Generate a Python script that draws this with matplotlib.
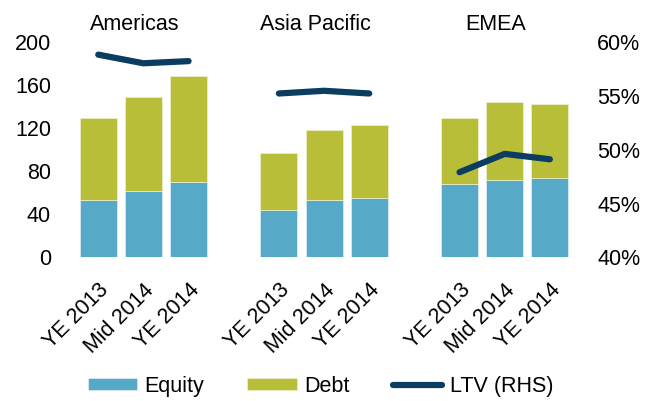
import numpy as np
import matplotlib.pyplot as plt
import matplotlib

matplotlib.rcParams['font.family'] = ['Liberation Sans', 'DejaVu Sans']
matplotlib.rcParams['font.size'] = 15.5

regions = ['Americas', 'Asia Pacific', 'EMEA']
periods = ['YE 2013', 'Mid 2014', 'YE 2014']

# values (bn)
equity = {
    'Americas': [53, 62, 70],
    'Asia Pacific': [44, 53, 55],
    'EMEA': [68, 72, 74],
}
debt = {
    'Americas': [76, 87, 98],
    'Asia Pacific': [53, 65, 68],
    'EMEA': [61, 72, 68],
}
ltv = {
    'Americas': [58.8, 58.0, 58.2],
    'Asia Pacific': [55.2, 55.45, 55.2],
    'EMEA': [47.9, 49.6, 49.1],
}

c_equity = '#57AAC7'
c_debt = '#B8BE38'
c_ltv = '#0B3D61'

fig = plt.figure(figsize=(6.54, 4.01), dpi=100)
ax = fig.add_axes([0.095, 0.358, 0.801, 0.538])
ax2 = ax.twinx()

width = 0.82
xticks = []
xlabels = []
for g, reg in enumerate(regions):
    x = g * 4 + np.arange(len(periods))
    ax.bar(x, equity[reg], width, color=c_equity, edgecolor='#dfeff5', linewidth=0.5,
           label='Equity' if g == 0 else None)
    ax.bar(x, debt[reg], width, bottom=equity[reg], color=c_debt, edgecolor='#eef0d0',
           linewidth=0.5, label='Debt' if g == 0 else None)
    ax2.plot(x, ltv[reg], color=c_ltv, linewidth=4.5, solid_capstyle='round',
             solid_joinstyle='round', label='LTV (RHS)' if g == 0 else None)
    ax.text(x[1] - 0.2, 216, reg, ha='center', va='center', clip_on=False)
    xticks += list(x)
    xlabels += periods

ax.set_xlim(-0.8, 10.8)
ax.set_ylim(0, 200)
ax.set_yticks(np.arange(0, 201, 40))
ax2.set_ylim(40, 60)
ax2.set_yticks(np.arange(40, 61, 5))
ax2.set_yticklabels([f'{v}%' for v in range(40, 61, 5)])

ax.set_xticks(xticks)
ax.set_xticklabels(xlabels, rotation=45, ha='right', rotation_mode='anchor')

for a in (ax, ax2):
    for s in a.spines.values():
        s.set_visible(False)
    a.tick_params(length=0)
ax.tick_params(axis='y', pad=8)
ax.tick_params(axis='x', pad=16)
ax2.tick_params(axis='y', pad=8)

h1, l1 = ax.get_legend_handles_labels()
h2, l2 = ax2.get_legend_handles_labels()
fig.legend(h1 + h2, l1 + l2, loc='center', bbox_to_anchor=(0.49, 0.037), ncol=3,
           frameon=False, handlelength=2.3, handleheight=0.47, handletextpad=0.35,
           columnspacing=2.0)

fig.savefig('out.png', dpi=100)
